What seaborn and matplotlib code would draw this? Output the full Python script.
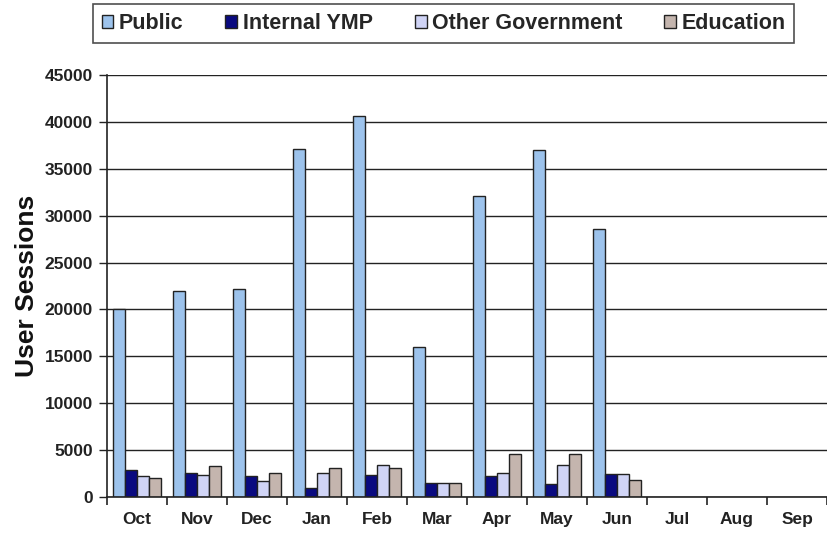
import matplotlib
matplotlib.use("Agg")
import matplotlib.pyplot as plt
import seaborn as sns
import pandas as pd
import numpy as np
from matplotlib.ticker import FixedLocator

months = ["Oct", "Nov", "Dec", "Jan", "Feb", "Mar", "Apr", "May", "Jun", "Jul", "Aug", "Sep"]
data_months = ["Oct", "Nov", "Dec", "Jan", "Feb", "Mar", "Apr", "May", "Jun"]
public = [20000, 22000, 22200, 37100, 40600, 16000, 32100, 37000, 28600]
internal_ymp = [2900, 2600, 2250, 1000, 2400, 1500, 2250, 1350, 2500]
other_gov = [2250, 2400, 1700, 2600, 3400, 1500, 2600, 3400, 2500]
education = [2050, 3300, 2600, 3100, 3050, 1500, 4550, 4550, 1800]
series = ["Public", "Internal YMP", "Other Government", "Education"]
colors = ["#9DC3EC", "#0A0A80", "#D0D4F6", "#C4B5AE"]

rows = []
for name, vals in zip(series, [public, internal_ymp, other_gov, education]):
    for m, v in zip(data_months, vals):
        rows.append({"Month": m, "Series": name, "Sessions": v})
df = pd.DataFrame(rows)

sns.set_style("white")
plt.rcParams['font.family'] = ['Liberation Sans', 'DejaVu Sans']

fig = plt.figure(figsize=(8.27, 5.41), dpi=100)
ax = fig.add_axes([0.1294, 0.0813, 0.8706, 0.7800])

sns.barplot(data=df, x="Month", y="Sessions", hue="Series", order=months,
            hue_order=series, palette=colors, saturation=1, width=0.8,
            edgecolor="#222222", linewidth=1.0, ax=ax, errorbar=None, legend=True)

ax.set_xlim(-0.5, 11.5)
ax.set_ylim(0, 45000)
ax.set_yticks(np.arange(0, 45001, 5000))
ax.yaxis.grid(True, color="#222222", linewidth=1.0)
ax.set_axisbelow(True)
for s in ["top", "right"]:
    ax.spines[s].set_visible(False)
for s in ["left", "bottom"]:
    ax.spines[s].set_color("#222222")
    ax.spines[s].set_linewidth(1.2)

ax.tick_params(axis="y", direction="out", length=6, width=1, color="#222222",
               left=True, labelsize=12.5, pad=4)
ax.tick_params(axis="x", which="major", length=0, labelsize=12.5, pad=11)
ax.xaxis.set_minor_locator(FixedLocator(np.arange(-0.5, 12, 1.0)))
ax.tick_params(axis="x", which="minor", direction="out", length=6, width=1.2,
               color="#222222", bottom=True)
for lab in ax.get_xticklabels() + ax.get_yticklabels():
    lab.set_fontweight("bold")
    lab.set_color("#222222")

ax.set_xlabel("")
ax.set_ylabel("User Sessions", fontsize=19, fontweight="bold", color="#111111", labelpad=4)

ax.get_legend().remove()
handles = [plt.Rectangle((0, 0), 1, 1, facecolor=c, edgecolor="#222222", linewidth=1) for c in colors]
leg = fig.legend(handles, series, loc="upper left", bbox_to_anchor=(0.1125, 0.992),
                 borderaxespad=0, ncol=4, frameon=True, fancybox=False, edgecolor="#222222",
                 prop={"weight": "bold", "size": 15.5}, handlelength=0.55, handleheight=0.55,
                 handletextpad=0.25, columnspacing=1.95, borderpad=0.4)
leg.get_frame().set_linewidth(1.2)

fig.savefig("out.png", dpi=100)
